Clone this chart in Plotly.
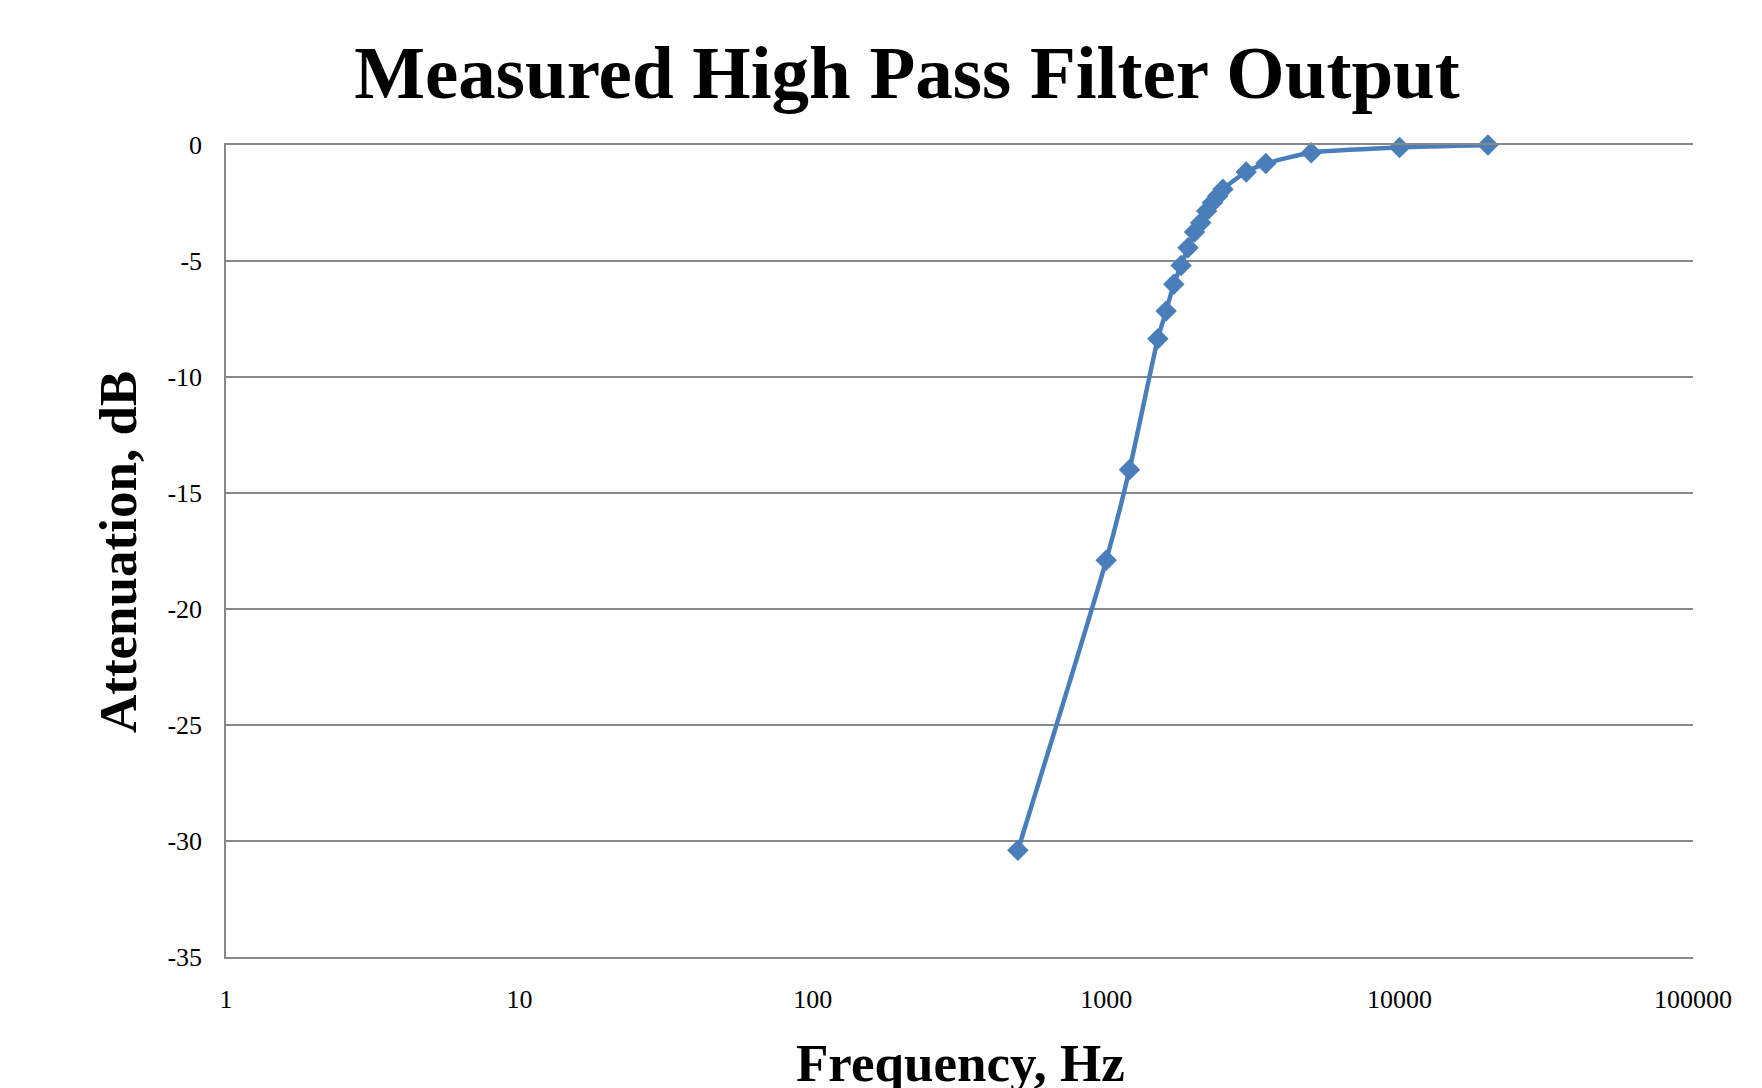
import plotly.graph_objects as go

freq_hz = [500, 1000, 1200, 1500, 1600, 1700, 1800, 1900, 2000, 2100, 2200, 2300, 2400, 2500,
           3000, 3500, 5000, 10000, 20000]
atten_db = [-30.4, -17.9, -14.0, -8.35, -7.16, -6.0, -5.19, -4.43, -3.75, -3.35, -2.84, -2.49,
            -2.2, -1.91, -1.16, -0.8, -0.33, -0.11, 0.0]

x_tickvals = [1, 10, 100, 1000, 10000, 100000]
x_ticktext = ["1", "10", "100", "1000", "10000", "100000"]
y_tickvals = [0, -5, -10, -15, -20, -25, -30, -35]
y_ticktext = ["0", "-5", "-10", "-15", "-20", "-25", "-30", "-35"]

title_text = "Measured High Pass Filter Output"
x_title = "Frequency, Hz"
y_title = "Attenuation, dB"

FONT = "Liberation Serif"
BLUE = "#4A7EBB"
GRID = "#888888"

fig = go.Figure()
fig.add_trace(go.Scatter(
    x=freq_hz, y=atten_db, mode="lines+markers",
    line=dict(color=BLUE, width=4.5, shape="spline", smoothing=0.6),
    marker=dict(symbol="diamond", size=16.5, color=BLUE),
    showlegend=False, cliponaxis=False,
))

W, H = 1762, 1088
L, R, T, B = 218, 77, 137, 139
ph = H - T - B
pw = W - L - R

fig.update_layout(
    width=W, height=H,
    margin=dict(l=L, r=R, t=T, b=B),
    paper_bgcolor="white", plot_bgcolor="white",
    font=dict(family=FONT, color="black"),
    title=dict(text=title_text, font=dict(family=FONT, size=75, color="black", weight="bold"),
               x=899 / W, xanchor="center", y=1 - 64 / H, yanchor="middle",
               xref="container", yref="container"),
    xaxis=dict(type="log", range=[0, 5], tickvals=x_tickvals, ticktext=x_ticktext,
               showgrid=False, zeroline=False, showline=True, mirror=True,
               linecolor=GRID, linewidth=1.5, ticks="",
               tickfont=dict(family=FONT, size=26, color="black"), ticklabelstandoff=18),
    yaxis=dict(range=[-35, 0], tickvals=y_tickvals, ticktext=y_ticktext,
               showgrid=True, gridcolor=GRID, gridwidth=1.5, zeroline=False,
               showline=True, linecolor=GRID, linewidth=1.5, ticks="",
               tickfont=dict(family=FONT, size=26, color="black"), ticklabelstandoff=17),
    annotations=[
        dict(text=x_title, xref="paper", yref="paper", x=(952 - L) / pw, y=(949 - 1024) / ph,
             xanchor="center", yanchor="top", showarrow=False,
             font=dict(family=FONT, size=53, color="black", weight="bold")),
        dict(text=y_title, xref="paper", yref="paper", x=(110 - L) / pw, y=(949 - 544) / ph,
             xanchor="center", yanchor="middle", showarrow=False, textangle=-90,
             font=dict(family=FONT, size=53, color="black", weight="bold")),
    ],
)

fig.write_html("out.html")
